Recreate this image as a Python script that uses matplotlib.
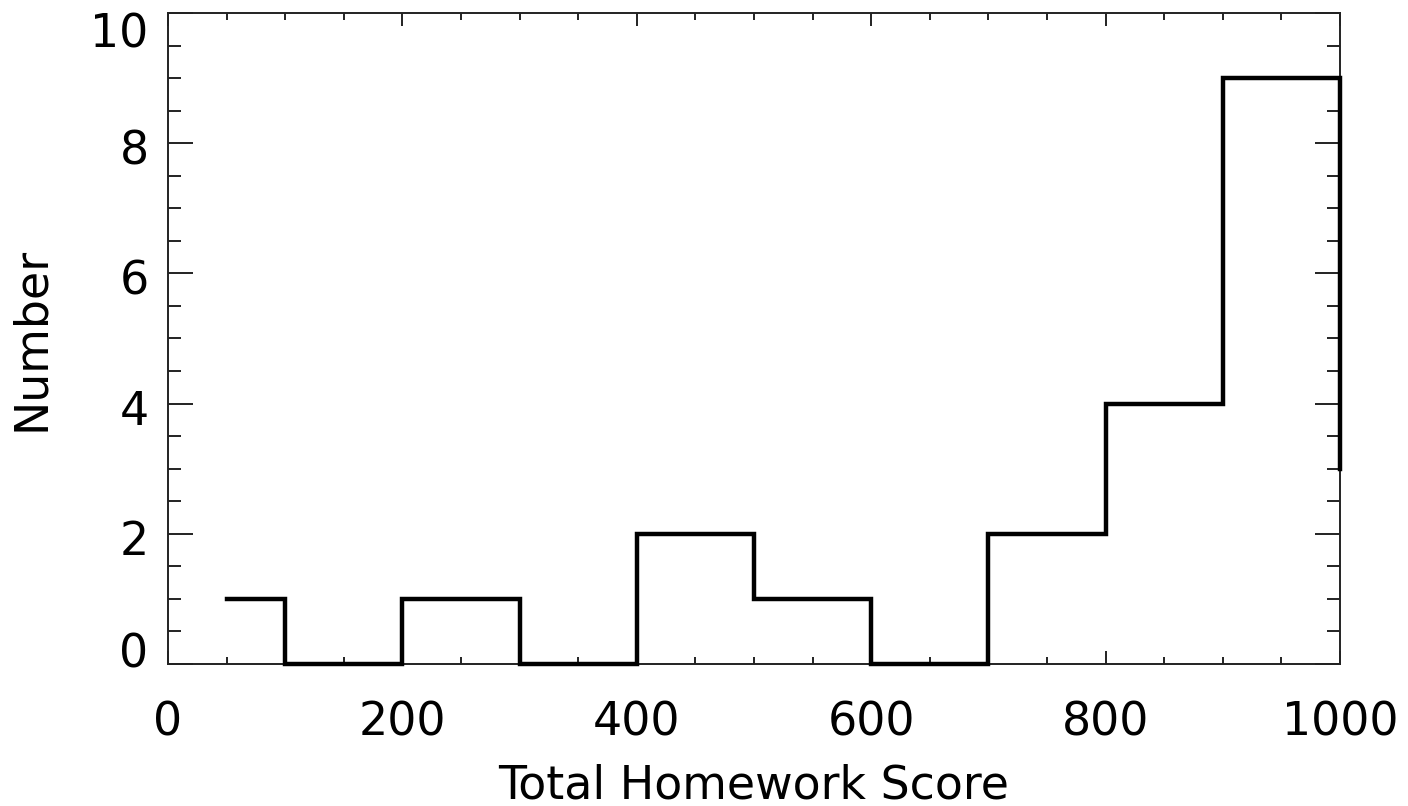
import matplotlib
matplotlib.use("Agg")
import matplotlib.pyplot as plt
from matplotlib.ticker import MultipleLocator
from matplotlib.transforms import ScaledTranslation

# histogram of total homework scores
bin_edges = [50, 100, 200, 300, 400, 500, 600, 700, 800, 900, 1000]
counts = [1, 0, 1, 0, 2, 1, 0, 2, 4, 9]
overflow = 3  # the line drops to this level at the right edge

x_ticks = [0, 200, 400, 600, 800, 1000]
y_ticks = [0, 2, 4, 6, 8, 10]

plt.rcParams['font.family'] = ['DejaVu Sans']
FS = 33

fig = plt.figure(figsize=(14.08, 8.06), dpi=100)
ax = fig.add_axes([168 / 1408, 142 / 806, 1172 / 1408, 651 / 806])

# build step outline by hand so it starts at the first edge with no riser
xs, ys = [], []
for i, c in enumerate(counts):
    xs += [bin_edges[i], bin_edges[i + 1]]
    ys += [c, c]
xs.append(bin_edges[-1])
ys.append(overflow)
ax.plot(xs, ys, color='black', lw=3.2, solid_joinstyle='miter', clip_on=False, zorder=3)

ax.set_xlim(0, 1000)
ax.set_ylim(0, 10)
ax.set_xticks(x_ticks)
ax.set_yticks(y_ticks)
ax.xaxis.set_minor_locator(MultipleLocator(50))
ax.yaxis.set_minor_locator(MultipleLocator(0.5))

for s in ax.spines.values():
    s.set_linewidth(1.4)
    s.set_color('#222222')

ax.tick_params(axis='both', which='both', direction='in', top=True, right=True,
               width=1.4, color='#222222', labelsize=FS)
ax.tick_params(axis='x', which='major', length=9.5, pad=26)
ax.tick_params(axis='x', which='minor', length=5)
ax.tick_params(axis='y', which='major', length=18, pad=14)
ax.tick_params(axis='y', which='minor', length=9.5)

ax.set_xticklabels([str(v) for v in x_ticks])
ax.set_yticklabels([str(v) for v in y_ticks])

# IDL-style label nudges: end labels pulled inside, others sit a bit low
labels = ax.get_yticklabels()
for i, lab in enumerate(labels):
    dy = -4
    if i == 0:
        dy = 14
    elif i == len(labels) - 1:
        dy = -17
    lab.set_transform(lab.get_transform() + ScaledTranslation(0, dy / 100, fig.dpi_scale_trans))

ax.set_xlabel('Total Homework Score', fontsize=FS)
ax.set_ylabel('Number', fontsize=FS)
ax.xaxis.set_label_coords(0.5, -0.153)
ax.yaxis.set_label_coords(-0.097, 0.5)

fig.savefig('out.png', dpi=100)
